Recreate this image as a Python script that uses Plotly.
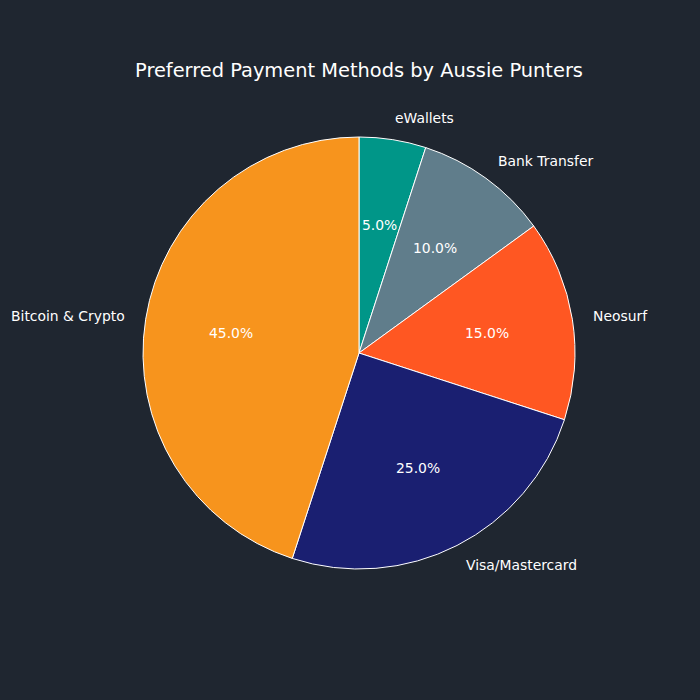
import math
import plotly.graph_objects as go

# slices listed clockwise from 12 o'clock
methods = ["eWallets", "Bank Transfer", "Neosurf", "Visa/Mastercard", "Bitcoin & Crypto"]
shares = [5, 10, 15, 25, 45]
colours = ["#009688", "#607D8B", "#FF5722", "#1A1F71", "#F7941D"]

bg = "#1F2630"

# pie centre and radius in paper units
cx, cy, r = 359 / 700, 1 - 353 / 700, 216 / 700
dom = dict(x=[cx - r, cx + r], y=[cy - r, cy + r])

fig = go.Figure()

fig.add_trace(go.Pie(
    labels=methods, values=shares, sort=False,
    direction="clockwise", rotation=0,
    marker=dict(colors=colours, line=dict(color="white", width=1)),
    textinfo="none",
    domain=dom, showlegend=False, hoverinfo="label+percent",
))

# labels at 1.1 r and percentages at 0.6 r
total = sum(shares)
start = 90.0
for name, v in zip(methods, shares):
    sweep = 360.0 * v / total
    mid = math.radians(start - sweep / 2)
    start -= sweep
    dx, dy = math.cos(mid), math.sin(mid)
    fig.add_annotation(
        x=cx + 1.1 * r * dx, y=cy + 1.1 * r * dy, xref="paper", yref="paper",
        text=name, showarrow=False,
        xanchor="left" if dx > 0 else "right", yanchor="middle",
        xshift=-3 if dx > 0 else 3,  # annotation box padding
        font=dict(family="DejaVu Sans", size=13.9, color="white"),
    )
    fig.add_annotation(
        x=cx + 0.6 * r * dx, y=cy + 0.6 * r * dy, xref="paper", yref="paper",
        text="%.1f%%" % (100.0 * v / total), showarrow=False,
        xanchor="center", yanchor="middle",
        font=dict(family="DejaVu Sans", size=13.9, color="white"),
    )

fig.update_layout(
    width=700, height=700,
    paper_bgcolor=bg, plot_bgcolor=bg,
    margin=dict(l=0, r=0, t=0, b=0),
    title=dict(text="Preferred Payment Methods by Aussie Punters",
               x=cx, xanchor="center", y=0.9, yanchor="middle",
               font=dict(family="DejaVu Sans", size=19.4, color="white")),
)

fig.write_html("out.html", config={"displayModeBar": False},
               post_script="document.body.style.margin='0';document.body.style.background='%s';" % bg)
